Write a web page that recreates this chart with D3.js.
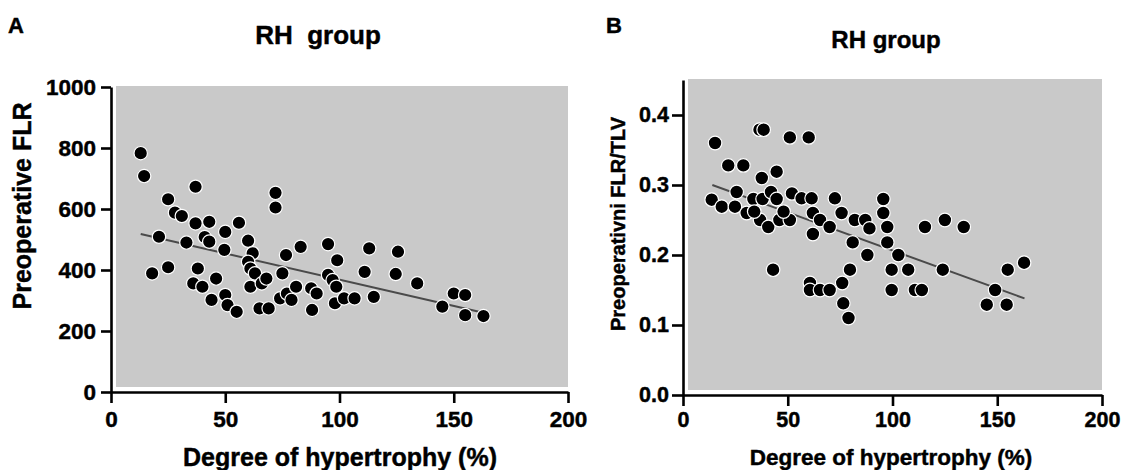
<!DOCTYPE html>
<html>
<head>
<meta charset="utf-8">
<script src="https://cdn.jsdelivr.net/npm/d3@7"></script>
<style>
  body { margin: 0; background: #ffffff; }
  svg { display: block; font-family: "Liberation Sans", Arial, sans-serif; font-weight: bold; }
  svg text { fill: #000; stroke: #000; stroke-width: 0.45; }
  .axis path, .axis line { stroke: #000; stroke-width: 2.6; }
  .axis text { fill: #000; font-weight: bold; font-family: "Liberation Sans", Arial, sans-serif; }
</style>
</head>
<body>
<svg id="chart" width="1121" height="470"></svg>
<script>
// Panel A : degree of hypertrophy (%) vs preoperative FLR
var hypertrophyA = [13, 14.5, 37, 72, 72, 25, 28, 31, 37, 43, 50, 56, 21, 33, 41, 43, 49.6, 60, 62, 76.6,
                    83, 95, 99, 113, 125.6, 60, 61, 63, 18, 25, 38, 46, 36, 40, 50, 44, 51, 55, 61, 66,
                    68, 65, 69, 75, 74, 77, 79, 81, 87.6, 90, 88, 95, 97, 98.6, 98, 102, 106.6, 111, 124.6, 134,
                    115, 150, 155, 145, 155, 163];
var flrA = [783, 708, 673, 653, 605, 632, 588, 577, 553, 558, 525, 555, 509, 490, 508, 493, 466, 496, 455, 449,
            476, 485, 432, 471, 460, 427, 405, 389, 389, 409, 405, 372, 356, 345, 318, 302, 285, 263, 345, 356,
            372, 274, 274, 389, 307, 323, 302, 345, 340, 323, 269, 384, 367, 345, 291, 307, 307, 394, 387, 356,
            312, 323, 318, 280, 252, 249];
var fitAx = [13, 163];
var fitAy = [518, 260];
var xTicksA = [0, 50, 100, 150, 200];
var yTicksA = [0, 200, 400, 600, 800, 1000];

// Panel B : degree of hypertrophy (%) vs FLR/TLV
var hypertrophyB = [15.3, 36.5, 38.5, 51, 60, 21.6, 28.8, 44.7, 37.6, 13.7, 18.5, 25.6, 24.8, 30.4, 33.6, 38, 42, 44.7,
                    36.8, 40.7, 46, 51, 52, 56.6, 61.4, 62, 65.4, 62, 70, 72.5, 75.7, 81, 82, 87, 88, 95.6, 95.6,
                    89, 97.5, 115.5, 125, 134, 97.5, 102.8, 79.7, 99.6, 107.5, 124, 99.6, 110.7, 114, 76, 76.5, 79,
                    155, 162.8, 149, 145, 154.5, 43, 60.6, 60.6, 65.4, 70, 34, 48];
var ratioB = [0.36, 0.379, 0.379, 0.368, 0.368, 0.328, 0.328, 0.319, 0.31, 0.279, 0.269, 0.29, 0.269, 0.26, 0.28, 0.28, 0.29, 0.28,
              0.25, 0.24, 0.25, 0.25, 0.288, 0.281, 0.281, 0.26, 0.25, 0.23, 0.24, 0.281, 0.26, 0.218, 0.25, 0.25, 0.2, 0.28, 0.26,
              0.238, 0.24, 0.24, 0.25, 0.24, 0.218, 0.2, 0.179, 0.179, 0.179, 0.179, 0.15, 0.15, 0.15, 0.16, 0.131, 0.11,
              0.179, 0.189, 0.15, 0.129, 0.129, 0.179, 0.16, 0.15, 0.15, 0.15, 0.262, 0.262];
var fitBx = [14, 163];
var fitBy = [0.30, 0.138];
var xTicksB = [0, 50, 100, 150, 200];
var yTicksB = [0, 0.1, 0.2, 0.3, 0.4];

var svg = d3.select("#chart");

var drawPanel = function(p){
  var xScale = d3.scaleLinear().domain(p.xDomain).range(p.xRange);
  var yScale = d3.scaleLinear().domain(p.yDomain).range(p.yRange);

  // gray plotting area, a little inset from the axes
  svg.append("rect")
     .attr("x", xScale(p.xDomain[0]) + 5)
     .attr("y", yScale(p.yDomain[1]) - 1)
     .attr("width", xScale(p.xDomain[1]) - xScale(p.xDomain[0]) - 5)
     .attr("height", yScale(p.yDomain[0]) - yScale(p.yDomain[1]) - 4)
     .attr("fill", "#c9c9c9");

  var xAxis = d3.axisBottom(xScale)
                .tickValues(p.xTicks)
                .tickSize(p.xTickSize)
                .tickSizeOuter(0)
                .tickPadding(p.xPad)
                .tickFormat(d3.format("d"));
  svg.append("g")
     .attr("class", "axis")
     .attr("transform", "translate(0," + yScale(p.yDomain[0]) + ")")
     .call(xAxis)
     .selectAll("text").style("font-size", p.tickFont + "px");

  var yAxis = d3.axisLeft(yScale)
                .tickValues(p.yTicks)
                .tickSize(p.yTickSize)
                .tickSizeOuter(0)
                .tickPadding(p.yPad)
                .tickFormat(p.yFormat);
  svg.append("g")
     .attr("class", "axis")
     .attr("transform", "translate(" + xScale(p.xDomain[0]) + ",0)")
     .call(yAxis)
     .selectAll("text").style("font-size", p.tickFont + "px");

  // fit line
  var line = d3.line()
               .x(function(d, i){return xScale(p.fitX[i])})
               .y(function(d, i){return yScale(p.fitY[i])});
  svg.append("path")
     .datum(p.fitX)
     .attr("d", line)
     .attr("fill", "none")
     .attr("stroke", "#4a4a4a")
     .attr("stroke-width", 2);

  svg.append("g")
     .selectAll("circle")
     .data(p.xs)
     .enter()
     .append("circle")
     .attr("cx", function(d){return xScale(d)})
     .attr("cy", function(d, i){return yScale(p.ys[i])})
     .attr("r", p.r)
     .attr("fill", "#000")
     .attr("stroke", "#ffffff")
     .attr("stroke-width", 1.2);

  // texts
  svg.append("text")
     .attr("x", p.letterX).attr("y", p.letterY)
     .style("font-size", "22px")
     .text(p.letter);
  svg.append("text")
     .attr("x", p.titleX).attr("y", p.titleY)
     .attr("text-anchor", "middle")
     .style("font-size", p.titleFont + "px")
     .style("white-space", "pre")
     .text(p.title);
  svg.append("text")
     .attr("x", p.xLabelX).attr("y", p.xLabelY)
     .attr("text-anchor", "middle")
     .style("font-size", p.xLabelFont + "px")
     .text("Degree of hypertrophy (%)");
  svg.append("text")
     .attr("transform", "translate(" + p.yLabelX + "," + p.yLabelY + ") rotate(-90)")
     .attr("text-anchor", "middle")
     .style("font-size", p.yLabelFont + "px")
     .text(p.yLabel);
};

drawPanel({
  xs: hypertrophyA, ys: flrA, fitX: fitAx, fitY: fitAy,
  xDomain: [0, 200], xRange: [111, 568],
  yDomain: [0, 1000], yRange: [392, 87],
  xTicks: xTicksA, yTicks: yTicksA, yFormat: d3.format("d"),
  xTickSize: 11, xPad: 8, yTickSize: 10, yPad: 5, tickFont: 22.5, r: 6.7,
  letter: "A", letterX: 8, letterY: 33,
  title: "RH  group", titleX: 318, titleY: 44, titleFont: 26,
  xLabelX: 340, xLabelY: 466, xLabelFont: 25,
  yLabel: "Preoperative FLR", yLabelX: 31, yLabelY: 206, yLabelFont: 25
});

drawPanel({
  xs: hypertrophyB, ys: ratioB, fitX: fitBx, fitY: fitBy,
  xDomain: [0, 200], xRange: [683, 1102],
  yDomain: [0, 0.45], yRange: [395, 80],
  xTicks: xTicksB, yTicks: yTicksB, yFormat: d3.format(".1f"),
  xTickSize: 11, xPad: 6, yTickSize: 11, yPad: 3, tickFont: 21.5, r: 6.8,
  letter: "B", letterX: 606, letterY: 33,
  title: "RH group", titleX: 886, titleY: 48, titleFont: 24,
  xLabelX: 891, xLabelY: 465, xLabelFont: 22.5,
  yLabel: "Preoperativni FLR/TLV", yLabelX: 625, yLabelY: 224, yLabelFont: 20
});
</script>
</body>
</html>
